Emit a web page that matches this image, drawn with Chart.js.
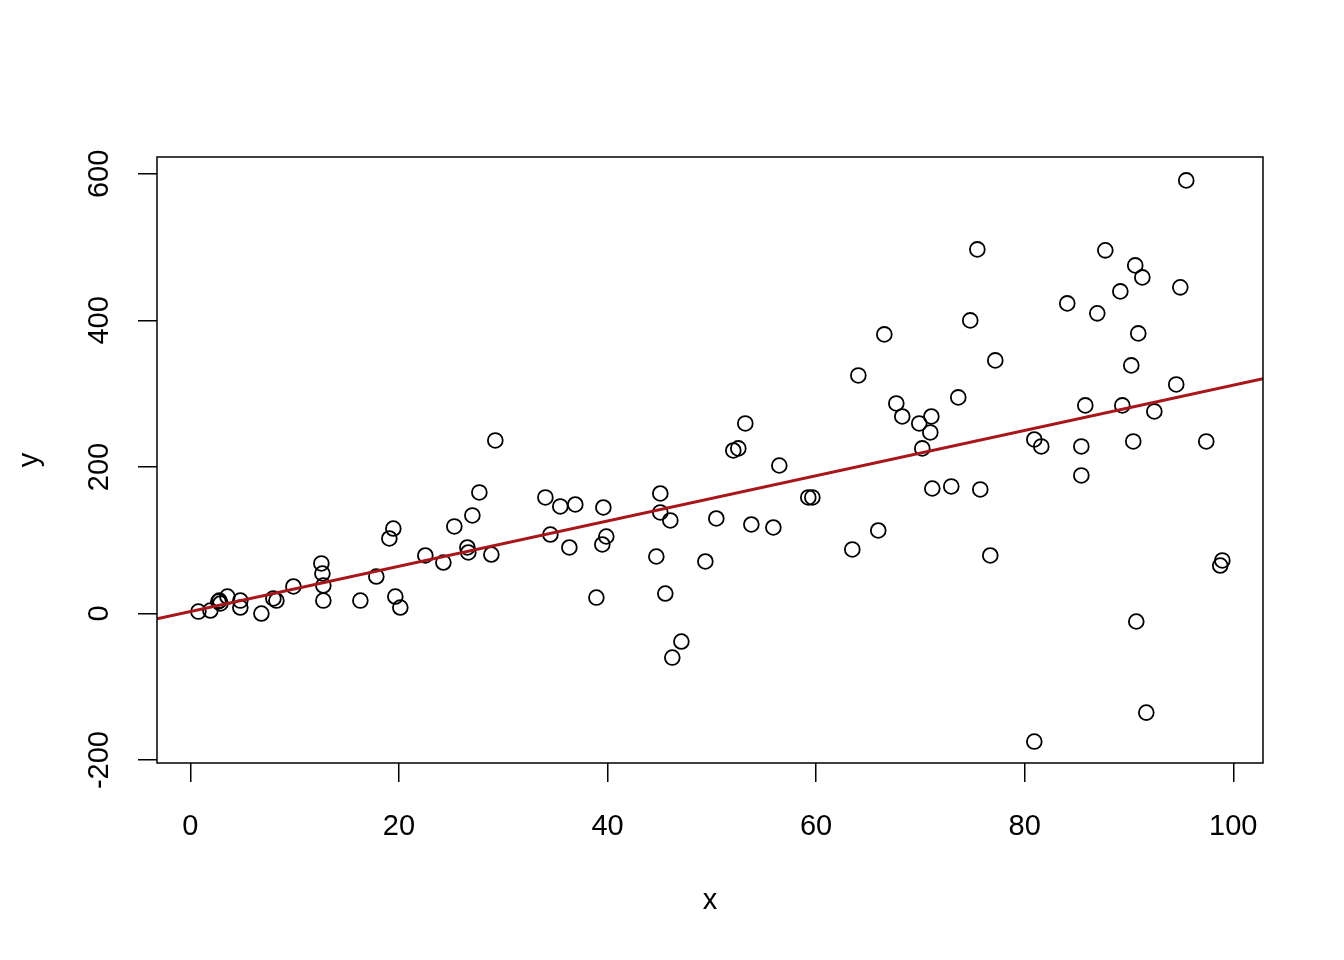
<!DOCTYPE html>
<html>
<head>
<meta charset="utf-8">
<script src="https://cdn.jsdelivr.net/npm/chart.js@4"></script>
<style>
  html, body { margin: 0; padding: 0; background: #fff; }
  canvas { display: block; }
</style>
</head>
<body>
<canvas id="myChart" width="1344" height="960"></canvas>
<script>
"use strict";

const xs = [
  0.77, 1.92, 2.68, 2.78, 2.88, 3.55, 4.79, 4.79, 6.81, 7.96,
  8.25, 9.88, 12.56, 12.66, 12.75, 12.75, 16.30, 17.83, 19.08, 19.46,
  19.65, 20.13, 22.53, 24.26, 25.31, 26.56, 26.65, 27.04, 27.71, 28.86,
  29.24, 34.04, 34.52, 35.47, 36.34, 36.91, 38.93, 39.50, 39.60, 39.88,
  44.68, 45.06, 45.06, 45.54, 46.02, 46.21, 47.08, 49.38, 50.43, 52.06,
  52.54, 53.21, 53.79, 55.90, 56.47, 59.25, 59.64, 63.47, 64.05, 65.96,
  66.54, 67.69, 68.26, 69.89, 70.18, 70.95, 71.05, 71.14, 72.96, 73.63,
  74.78, 75.46, 75.74, 76.70, 77.18, 80.92, 80.92, 81.59, 84.08, 85.43,
  85.43, 85.81, 86.96, 87.73, 89.17, 89.36, 90.22, 90.41, 90.60, 90.70,
  90.89, 91.28, 91.66, 92.43, 94.53, 94.92, 95.49, 97.41, 98.75, 98.95
];
const ys = [
  2.7, 4.1, 16.4, 17.7, 13.7, 23.2, 17.7, 8.2, 0.0, 20.5,
  17.7, 36.9, 68.3, 54.6, 38.2, 17.7, 17.7, 50.5, 102.4, 116.0,
  23.2, 8.2, 79.2, 69.6, 118.8, 90.1, 83.3, 133.8, 165.2, 80.5,
  236.2, 158.4, 107.8, 146.1, 90.1, 148.8, 21.8, 94.2, 144.7, 105.1,
  77.8, 163.8, 137.9, 27.3, 127.0, -60.1, -38.2, 71.0, 129.7, 222.5,
  225.3, 259.4, 121.5, 117.4, 202.0, 158.4, 158.4, 87.4, 324.9, 113.3,
  380.9, 286.7, 268.9, 259.4, 225.3, 247.1, 268.9, 170.6, 173.4, 294.9,
  400.0, 496.9, 169.3, 79.2, 345.4, -174.7, 237.5, 228.0, 423.2, 228.0,
  188.4, 284.0, 409.6, 495.6, 439.6, 284.0, 338.6, 234.8, 475.1, -10.9,
  382.3, 458.7, -135.2, 275.8, 312.6, 445.1, 591.1, 234.8, 65.5, 72.4
];

// fitted line, read at the two edges of the plot
const fitX = [-3.2, 102.85];
const fitY = [-7.2, 320.5];

const xTicks = [0, 20, 40, 60, 80, 100];
const yTicks = [-200, 0, 200, 400, 600];

const FONT = "Liberation Sans, Arial, Helvetica, sans-serif";
const FSIZE = 29;

const points = xs.map((x, i) => ({ x: x, y: ys[i] }));
const fit = fitX.map((x, i) => ({ x: x, y: fitY[i] }));

const rPlot = {
  id: "rPlot",
  afterDraw(chart) {
    const c = chart.ctx;
    const a = chart.chartArea;
    const ys_ = chart.scales.y;
    c.save();
    c.strokeStyle = "#000";
    c.lineWidth = 1.5;
    c.strokeRect(a.left, a.top, a.right - a.left, a.bottom - a.top);

    c.fillStyle = "#000";
    c.font = FSIZE + "px " + FONT;
    c.textAlign = "center";
    c.textBaseline = "middle";
    yTicks.forEach(v => {
      const py = ys_.getPixelForValue(v);
      c.save();
      c.translate(100, py);
      c.rotate(-Math.PI / 2);
      c.fillText(String(v), 0, 0);
      c.restore();
    });

    c.fillText("x", (a.left + a.right) / 2, 901);
    c.save();
    c.translate(30, (a.top + a.bottom) / 2);
    c.rotate(-Math.PI / 2);
    c.fillText("y", 0, 0);
    c.restore();
    c.restore();
  }
};

new Chart(document.getElementById("myChart"), {
  type: "scatter",
  data: {
    datasets: [
      {
        data: points,
        pointRadius: 7.4,
        pointHoverRadius: 7.4,
        borderWidth: 1.8,
        borderColor: "#000",
        backgroundColor: "rgba(0,0,0,0)",
        order: 2
      },
      {
        type: "line",
        data: fit,
        borderColor: "#a8161c",
        borderWidth: 3,
        pointRadius: 0,
        fill: false,
        order: 1
      }
    ]
  },
  options: {
    responsive: false,
    animation: false,
    devicePixelRatio: 1,
    layout: { padding: { top: 157, right: 81, bottom: 0, left: 0 } },
    plugins: { legend: { display: false }, tooltip: { enabled: false } },
    scales: {
      x: {
        type: "linear",
        min: -3.2,
        max: 102.85,
        afterBuildTicks: s => { s.ticks = xTicks.map(v => ({ value: v })); },
        afterFit: s => { s.height = 197; },
        border: { display: false },
        grid: { drawOnChartArea: false, tickLength: 19, lineWidth: 1.5, color: "#000" },
        ticks: { color: "#000", padding: 28, maxRotation: 0, font: { family: FONT, size: FSIZE } }
      },
      y: {
        type: "linear",
        min: -204,
        max: 623,
        afterBuildTicks: s => { s.ticks = yTicks.map(v => ({ value: v })); },
        afterFit: s => { s.width = 157; },
        border: { display: false },
        grid: { drawOnChartArea: false, tickLength: 19, lineWidth: 1.5, color: "#000" },
        ticks: { color: "rgba(0,0,0,0)", font: { family: FONT, size: FSIZE } }
      }
    }
  },
  plugins: [rPlot]
});
</script>
</body>
</html>
